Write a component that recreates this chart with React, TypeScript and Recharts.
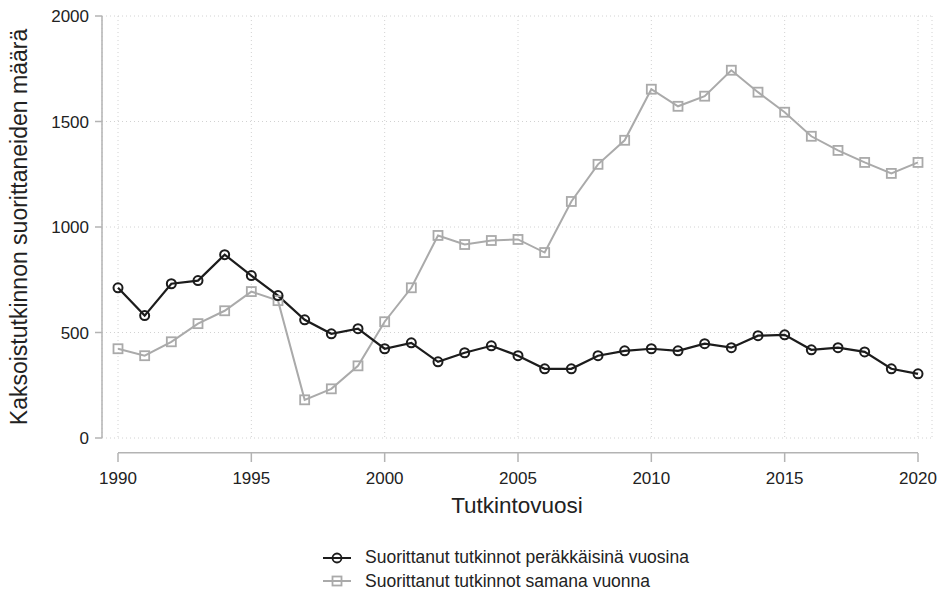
import React from 'react'
import {
  LineChart,
  Line,
  XAxis,
  YAxis,
  CartesianGrid,
  Legend,
  ReferenceLine,
  Label,
} from 'recharts'

const FONT = '"Liberation Sans", Arial, sans-serif'
const AXIS = '#b3b3b3'
const TEXT = '#222222'
const DARK = '#1c1c1c'
const LIGHT = '#aaaaaa'

const years = [
  1990, 1991, 1992, 1993, 1994, 1995, 1996, 1997, 1998, 1999, 2000, 2001, 2002, 2003, 2004, 2005,
  2006, 2007, 2008, 2009, 2010, 2011, 2012, 2013, 2014, 2015, 2016, 2017, 2018, 2019, 2020,
]

// Suorittanut tutkinnot peräkkäisinä vuosina
const consecutive = [
  712, 580, 731, 746, 869, 770, 675, 560, 494, 518, 423, 451, 361, 404, 437, 390,
  328, 328, 390, 413, 423, 413, 447, 428, 485, 489, 418, 428, 408, 328, 304,
]

// Suorittanut tutkinnot samana vuonna
const sameYear = [
  423, 390, 456, 542, 603, 694, 651, 181, 233, 342, 551, 712, 960, 917, 936, 941,
  879, 1121, 1297, 1411, 1653, 1572, 1620, 1743, 1639, 1544, 1430, 1363, 1306, 1254, 1306,
]

const yearTicks = [1990, 1995, 2000, 2005, 2010, 2015, 2020]
const countTicks = [0, 500, 1000, 1500, 2000]
const seriesNames = [
  'Suorittanut tutkinnot peräkkäisinä vuosina',
  'Suorittanut tutkinnot samana vuonna',
]

const data = years.map((year, i) => ({
  year,
  consecutive: consecutive[i],
  sameYear: sameYear[i],
}))

const SquareDot = (props: any) => {
  const { cx, cy, index } = props
  if (cx == null || cy == null) return <g key={`sq-${index}`} />
  return (
    <rect
      key={`sq-${index}`}
      x={cx - 4.5}
      y={cy - 4.5}
      width={9}
      height={9}
      fill="none"
      stroke={LIGHT}
      strokeWidth={1.8}
    />
  )
}

const YearTick = (props: any) => {
  const { x, y, payload } = props
  return (
    <g>
      <line x1={x} x2={x} y1={y + 15} y2={y + 24} stroke={AXIS} strokeWidth={1.5} />
      <text x={x} y={y + 46} textAnchor="middle" fill={TEXT} fontSize={17} fontFamily={FONT}>
        {payload.value}
      </text>
    </g>
  )
}

const LegendContent = () => (
  <div style={{ fontFamily: FONT, fontSize: 17.5, color: TEXT }}>
    {seriesNames.map((name, i) => (
      <div key={name} style={{ display: 'flex', alignItems: 'center', height: 23.5 }}>
        <svg width={42} height={24}>
          <line x1={0} x2={28} y1={12} y2={12} stroke={i === 0 ? DARK : LIGHT} strokeWidth={2} />
          {i === 0 ? (
            <circle cx={14} cy={12} r={4.5} fill="none" stroke={DARK} strokeWidth={1.8} />
          ) : (
            <rect x={9.5} y={7.5} width={9} height={9} fill="none" stroke={LIGHT} strokeWidth={1.8} />
          )}
        </svg>
        <span>{name}</span>
      </div>
    ))}
  </div>
)

export default function App() {
  return (
    <div style={{ position: 'absolute', left: 0, top: 0, background: '#fff' }}>
      <LineChart
        width={940}
        height={595}
        data={data}
        margin={{ top: 16, right: 8, left: 0, bottom: 0 }}
      >
        <CartesianGrid stroke="#d2d2d2" strokeDasharray="1 3" />
        <XAxis
          dataKey="year"
          type="number"
          domain={[1990, 2020]}
          ticks={yearTicks}
          padding={{ left: 16, right: 14 }}
          height={157}
          axisLine={false}
          tickLine={false}
          tickSize={0}
          tickMargin={0}
          tick={<YearTick />}
        >
          <Label
            content={({ viewBox }: any) => (
              <text
                x={viewBox.x + viewBox.width / 2}
                y={viewBox.y + 75}
                textAnchor="middle"
                fill={TEXT}
                fontSize={22.5}
                fontFamily={FONT}
              >
                Tutkintovuosi
              </text>
            )}
          />
        </XAxis>
        <YAxis
          width={102}
          domain={[0, 2000]}
          ticks={countTicks}
          tickSize={7}
          tickMargin={6}
          axisLine={{ stroke: AXIS, strokeWidth: 1.5 }}
          tickLine={{ stroke: AXIS, strokeWidth: 1.5 }}
          tick={{ fill: TEXT, fontSize: 17, fontFamily: FONT }}
        >
          <Label
            content={({ viewBox }: any) => {
              const cx = viewBox.x + 19
              const cy = viewBox.y + viewBox.height / 2
              return (
                <text
                  x={cx}
                  y={cy}
                  transform={`rotate(-90 ${cx} ${cy})`}
                  textAnchor="middle"
                  dominantBaseline="central"
                  fill={TEXT}
                  fontSize={23}
                  fontFamily={FONT}
                >
                  Kaksoistutkinnon suorittaneiden määrä
                </text>
              )
            }}
          />
        </YAxis>
        <ReferenceLine
          segment={[
            { x: 1990, y: -70 },
            { x: 2020, y: -70 },
          ]}
          ifOverflow="visible"
          stroke={AXIS}
          strokeWidth={1.5}
        />
        <Line
          dataKey="sameYear"
          name={seriesNames[1]}
          stroke={LIGHT}
          strokeWidth={2}
          dot={<SquareDot />}
          activeDot={false}
          isAnimationActive={false}
        />
        <Line
          dataKey="consecutive"
          name={seriesNames[0]}
          stroke={DARK}
          strokeWidth={2.2}
          dot={{ r: 4.5, fill: 'none', stroke: DARK, strokeWidth: 2 }}
          activeDot={false}
          isAnimationActive={false}
        />
        <Legend
          layout="vertical"
          align="center"
          verticalAlign="middle"
          content={<LegendContent />}
          wrapperStyle={{ left: 323, top: 546, width: 'auto', height: 'auto' }}
        />
      </LineChart>
    </div>
  )
}
